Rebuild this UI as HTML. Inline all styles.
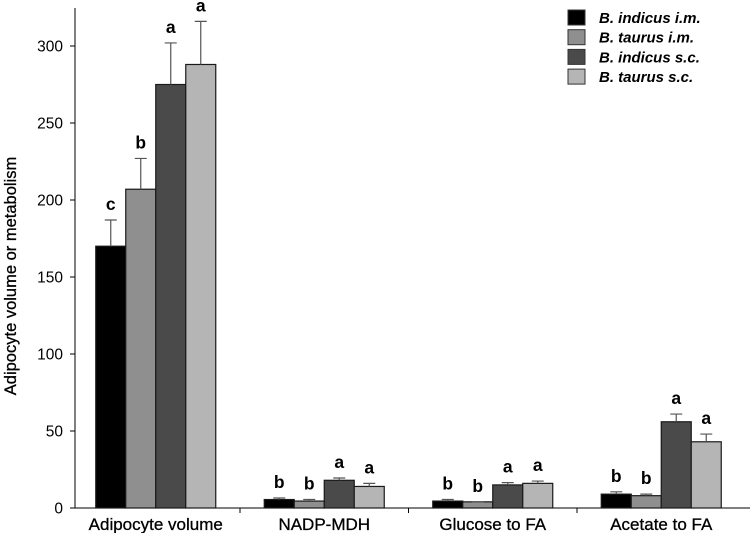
<!DOCTYPE html>
<html><head><meta charset="utf-8"><style>
body{margin:0;background:#fff}
svg{display:block;font-family:"Liberation Sans",Arial,sans-serif}
</style></head><body>
<svg id="c" width="750" height="533" viewBox="0 0 750 533"></svg>
<script>
const categories=["Adipocyte volume","NADP-MDH","Glucose to FA","Acetate to FA"];
const seriesNames=["B. indicus i.m.","B. taurus i.m.","B. indicus s.c.","B. taurus s.c."];
const indicusIM=[170,5.5,4.5,9];
const taurusIM=[207,4.5,4,8];
const indicusSC=[275,18,15,56];
const taurusSC=[288,14,16,43];
const errIndicusIM=[17,1,1,1.5];
const errTaurusIM=[20,1,0,1];
const errIndicusSC=[27,1.5,1.5,5];
const errTaurusSC=[28,2,1.5,5];
const lettersIndicusIM=["c","b","b","b"];
const lettersTaurusIM=["b","b","b","b"];
const lettersIndicusSC=["a","a","a","a"];
const lettersTaurusSC=["a","a","a","a"];
const yTicks=[0,50,100,150,200,250,300];

const series=[indicusIM,taurusIM,indicusSC,taurusSC];
const errs=[errIndicusIM,errTaurusIM,errIndicusSC,errTaurusSC];
const letters=[lettersIndicusIM,lettersTaurusIM,lettersIndicusSC,lettersTaurusSC];
const colors=["#000","#8f8f8f","#4a4a4a","#b5b5b5"];
const svg=document.getElementById('c');
const NS="http://www.w3.org/2000/svg";
const x0=75,x1=750,y0=508,yTop=46,yMax=300;
const y=v=>y0-(v/yMax)*(y0-yTop);
const catStart=71.5,catW=168.5;
const barW=30;
function mk(t,a,p){const e=document.createElementNS(NS,t);for(const k in a)e.setAttribute(k,a[k]);(p||svg).appendChild(e);return e;}
let e=mk('line',{x1:x0,y1:y0,x2:x1,y2:y0,stroke:'#000','stroke-width':1});


e=mk('line',{x1:x0,y1:8,x2:x0,y2:y0,stroke:'#000','stroke-width':1});


yTicks.forEach(v=>{
  const t=mk('line',{x1:x0-5,y1:y(v),x2:x0,y2:y(v),stroke:'#000'});
  
  
  const l=mk('text',{x:x0-12,y:y(v)+5.5,'text-anchor':'end','font-size':15.5});
  l.textContent=v;
  
  
});
const yt=mk('text',{x:0,y:0,transform:'translate(16,276) rotate(-90)','text-anchor':'middle','font-size':16.5,stroke:'#000','stroke-width':0.3});
yt.textContent='Adipocyte volume or metabolism';


categories.forEach((c,i)=>{
  const cx=catStart+catW*(i+0.5);
  if(i>0){const t=mk('line',{x1:catStart+catW*i,y1:y0,x2:catStart+catW*i,y2:y0+5,stroke:'#000'});
    
    }
  const l=mk('text',{x:cx,y:y0+22,'text-anchor':'middle','font-size':17,stroke:'#000','stroke-width':0.3});
  l.textContent=c;
  
  
  series.forEach((s,j)=>{
    const bx=cx-2*barW+j*barW;
    const top=y(s[i]);
    const r=mk('rect',{x:bx,y:top,width:barW,height:y0-top,fill:colors[j],stroke:'#1a1a1a','stroke-width':1.2});
    
    
    const et=y(s[i]+errs[j][i]);
    const g=mk('path',{d:`M${bx+barW/2} ${top}V${et}M${bx+barW/2-6} ${et}H${bx+barW/2+6}`,stroke:'#555','stroke-width':1.2,fill:'none'});
    
    
    const lt=mk('text',{x:bx+barW/2,y:et-10,'text-anchor':'middle','font-size':17.5,'font-weight':'bold'});
    lt.textContent=letters[j][i];
    
    
  });
});
seriesNames.forEach((n,j)=>{
  const yy=10+j*19.7;
  const r=mk('rect',{x:568,y:yy,width:17,height:15,fill:colors[j],stroke:'#333'});
  
  
  const t=mk('text',{x:599,y:yy+13,'font-size':15,'font-weight':'bold','font-style':'italic'});
  t.textContent=n;
  
  
});
</script>
</body></html>
